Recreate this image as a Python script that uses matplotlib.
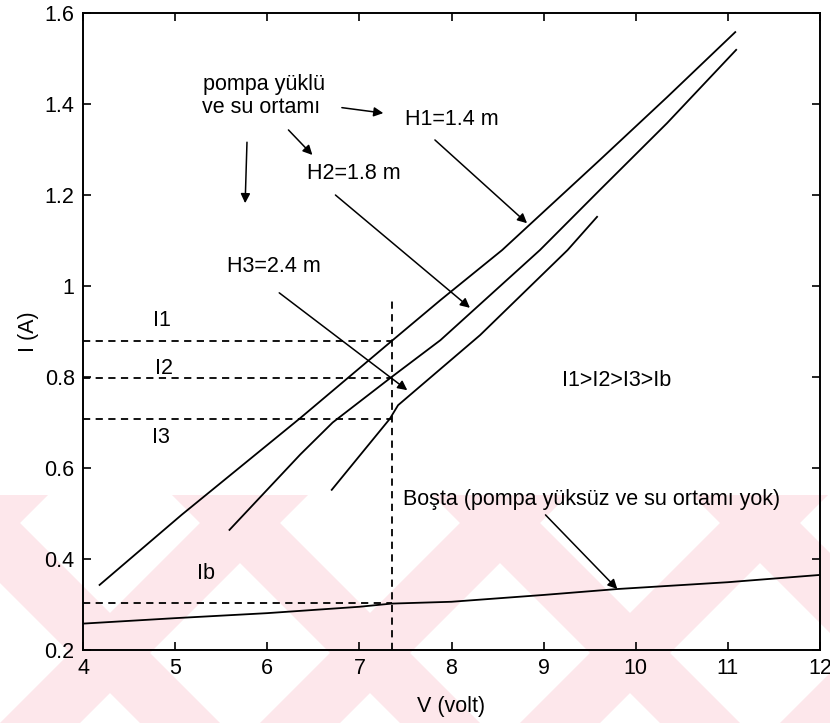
import matplotlib
matplotlib.use('Agg')
import matplotlib.pyplot as plt
from matplotlib.patches import Polygon, Rectangle

# akim-gerilim egrileri
v_h1 = [4.18, 5.07, 6.36, 7.35, 7.88, 8.55, 9.61, 10.34, 11.08]
i_h1 = [0.343, 0.497, 0.710, 0.879, 0.969, 1.079, 1.277, 1.415, 1.558]

v_h2 = [5.59, 6.36, 6.71, 7.35, 7.88, 8.96, 9.61, 10.34, 11.09]
i_h2 = [0.464, 0.630, 0.700, 0.800, 0.881, 1.079, 1.211, 1.358, 1.519]

v_h3 = [6.70, 7.33, 7.42, 8.31, 9.26, 9.58]
i_h3 = [0.552, 0.708, 0.738, 0.892, 1.079, 1.152]

v_bos = [4, 5, 6, 7, 7.35, 8, 9, 9.8, 11, 12]
i_bos = [0.258, 0.270, 0.281, 0.295, 0.302, 0.306, 0.321, 0.334, 0.349, 0.365]

# calisma noktasi ve akim seviyeleri
v_op = 7.35
v_op_top = 0.976
level_names = ['I1', 'I2', 'I3', 'Ib']
level_values = [0.879, 0.798, 0.708, 0.303]

plt.rcParams['font.family'] = ['Liberation Sans', 'DejaVu Sans']
plt.rcParams['font.size'] = 15.5

W, H = 830, 723
fig = plt.figure(figsize=(W / 100, H / 100), dpi=100)

# arka plandaki soluk pembe filigran
clip = Rectangle((0, 0), 1, 1 - 495 / H, transform=fig.transFigure, visible=False)
fig.add_artist(clip)
for k in range(-3, 6):
    x0 = k * 260
    for sgn in (1, -1):
        if sgn == 1:
            pts = [(x0, H), (x0 + 80, H), (x0 + 80 + 400, H - 400), (x0 + 400, H - 400)]
        else:
            pts = [(x0, H - 400), (x0 + 80, H - 400), (x0 + 80 + 400, H), (x0 + 400, H)]
        pts = [(px / W, 1 - py / H) for px, py in pts]
        band = Polygon(pts, closed=True, transform=fig.transFigure,
                       facecolor='#fde7eb', edgecolor='none', zorder=-10)
        fig.add_artist(band)
        band.set_clip_path(clip)

ax = fig.add_axes([83 / W, 1 - 650 / H, (820 - 83) / W, (650 - 13) / H])
ax.set_facecolor('none')

ax.plot(v_h1, i_h1, color='k', lw=1.3)
ax.plot(v_h2, i_h2, color='k', lw=1.3)
ax.plot(v_h3, i_h3, color='k', lw=1.3)
ax.plot(v_bos, i_bos, color='k', lw=1.3)

# kesikli cizgiler
ax.plot([v_op, v_op], [0.2, v_op_top], color='k', lw=1.3, ls=(0, (4, 3)))
for val in level_values:
    ax.plot([4, v_op], [val, val], color='k', lw=1.3, ls=(0, (4, 3)))

ax.text(4.76, 0.925, 'I1', va='center')
ax.text(4.78, 0.818, 'I2', va='center')
ax.text(4.75, 0.668, 'I3', va='center')
ax.text(5.24, 0.369, 'Ib', va='center')

ax.text(5.30, 1.442, 'pompa yüklü', va='center')
ax.text(5.29, 1.393, 've su ortamı', va='center')
ax.text(7.50, 1.365, 'H1=1.4 m', va='center')
ax.text(6.43, 1.248, 'H2=1.8 m', va='center')
ax.text(5.56, 1.042, 'H3=2.4 m', va='center')
ax.text(9.20, 0.793, 'I1>I2>I3>Ib', va='center')
ax.text(7.47, 0.530, 'Boşta (pompa yüksüz ve su ortamı yok)', va='center')

ok = dict(arrowstyle='-|>', color='k', lw=1.1, mutation_scale=14, shrinkA=0, shrinkB=0)
ax.annotate('', xy=(8.82, 1.138), xytext=(7.82, 1.321), arrowprops=ok)
ax.annotate('', xy=(8.20, 0.952), xytext=(6.74, 1.200), arrowprops=ok)
ax.annotate('', xy=(7.52, 0.771), xytext=(6.13, 0.985), arrowprops=ok)
ax.annotate('', xy=(9.80, 0.334), xytext=(9.02, 0.497), arrowprops=ok)
ax.annotate('', xy=(7.26, 1.380), xytext=(6.81, 1.392), arrowprops=ok)
ax.annotate('', xy=(6.49, 1.288), xytext=(6.23, 1.343), arrowprops=ok)
ax.annotate('', xy=(5.76, 1.182), xytext=(5.78, 1.316), arrowprops=ok)

ax.set_xlim(4, 12)
ax.set_ylim(0.2, 1.6)
ax.set_xticks(range(4, 13))
ax.set_yticks([0.2, 0.4, 0.6, 0.8, 1.0, 1.2, 1.4, 1.6])
ax.set_yticklabels(['0.2', '0.4', '0.6', '0.8', '1', '1.2', '1.4', '1.6'])
ax.tick_params(direction='in', length=6, width=1.2, top=True, right=True, pad=6)
for s in ax.spines.values():
    s.set_linewidth(1.4)

ax.set_xlabel('V (volt)', labelpad=12)
ax.set_ylabel('I (A)', labelpad=4)

fig.savefig('out.png', dpi=100)
